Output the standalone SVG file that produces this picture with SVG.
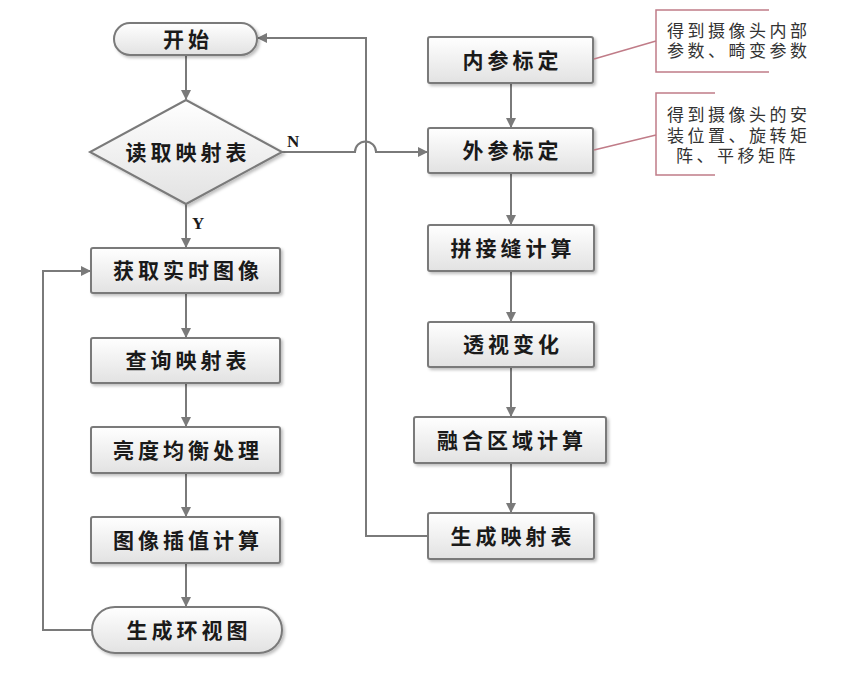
<svg xmlns="http://www.w3.org/2000/svg" width="842" height="675" viewBox="0 0 842 675">
<style>
.box{fill:url(#g);stroke:#7a7a7a;stroke-width:2;filter:url(#sh)}
.t{font-family:"Noto Sans CJK SC","Noto Sans",sans-serif;font-weight:bold;font-size:21px;letter-spacing:4px;fill:#1a1a1a;text-anchor:middle}
.ca{fill:none;stroke:#7a7a7a;stroke-width:2;marker-end:url(#ar)}
.lab{font-family:"Liberation Serif",serif;font-weight:bold;font-size:17px;fill:#1a1a1a}
.co{fill:none;stroke:#c07c88;stroke-width:1.5}
.ct{font-family:"Noto Sans CJK SC","Noto Sans",sans-serif;font-size:17px;letter-spacing:3.5px;fill:#333}
</style>
<defs>
<linearGradient id="g" x1="0" y1="0" x2="0" y2="1"><stop offset="0" stop-color="#ffffff"/><stop offset="1" stop-color="#e2e2e2"/></linearGradient>
<filter id="sh" x="-10%" y="-10%" width="130%" height="140%"><feDropShadow dx="2" dy="2" stdDeviation="1.5" flood-color="#000" flood-opacity="0.25"/></filter>
<marker id="ar" markerWidth="10" markerHeight="10" refX="9" refY="5" orient="auto" markerUnits="userSpaceOnUse"><path d="M0,0 L10,5 L0,10 Z" fill="#7a7a7a"/></marker>
</defs>
<g id="connectors">
<path class="ca" d="M186,55 V99"/>
<path class="ca" d="M186,204 V247"/>
<path class="ca" d="M186,293 V337"/>
<path class="ca" d="M186,383 V426"/>
<path class="ca" d="M186,473 V516"/>
<path class="ca" d="M186,563 V606"/>
<path class="ca" d="M92,630 H43 V271 H90"/>
<path class="ca" d="M282,152 H355 A10.5,10.5 0 0 1 376,152 H427"/>
<path class="ca" d="M428,536 H366 V38 H258"/>
<path class="ca" d="M511,83 V127"/>
<path class="ca" d="M511,173 V224"/>
<path class="ca" d="M511,271 V321"/>
<path class="ca" d="M511,367 V416"/>
<path class="ca" d="M511,463 V512"/>
<text class="lab" x="287" y="147">N</text>
<text class="lab" x="192" y="229">Y</text>
</g>
<g id="start"><rect class="box" x="114" y="23" width="143" height="32" rx="16"/><text class="t" x="188" y="46.5">开始</text></g>
<g id="read"><path class="box" d="M186,100 L282,152 L186,204 L90,152 Z"/><text class="t" x="188" y="159.5">读取映射表</text></g>
<g id="acquire"><rect class="box" x="91" y="248" width="189" height="45" rx="2"/><text class="t" x="188" y="277.5">获取实时图像</text></g>
<g id="query"><rect class="box" x="91" y="338" width="189" height="45" rx="2"/><text class="t" x="188" y="367.5">查询映射表</text></g>
<g id="bright"><rect class="box" x="91" y="427" width="189" height="46" rx="2"/><text class="t" x="188" y="457.5">亮度均衡处理</text></g>
<g id="interp"><rect class="box" x="91" y="517" width="189" height="46" rx="2"/><text class="t" x="188" y="547.5">图像插值计算</text></g>
<g id="surround"><rect class="box" x="92" y="607" width="190" height="46" rx="23"/><text class="t" x="189" y="637.5">生成环视图</text></g>
<g id="intrinsic"><rect class="box" x="428" y="37" width="165" height="46" rx="2"/><text class="t" x="512.5" y="67.5">内参标定</text></g>
<g id="extrinsic"><rect class="box" x="428" y="128" width="165" height="45" rx="2"/><text class="t" x="512.5" y="157.5">外参标定</text></g>
<g id="seam"><rect class="box" x="428" y="225" width="166" height="46" rx="2"/><text class="t" x="513" y="255.5">拼接缝计算</text></g>
<g id="persp"><rect class="box" x="428" y="322" width="166" height="45" rx="2"/><text class="t" x="513" y="351.5">透视变化</text></g>
<g id="blend"><rect class="box" x="414" y="417" width="192" height="46" rx="2"/><text class="t" x="512" y="447.5">融合区域计算</text></g>
<g id="genmap"><rect class="box" x="428" y="513" width="166" height="46" rx="2"/><text class="t" x="513" y="543.5">生成映射表</text></g>
<g id="note1">
<path class="co" d="M594,59 L656,41"/>
<path class="co" d="M769,10 H656 V72 H769"/>
<text class="ct" x="667" y="37">得到摄像头内部</text>
<text class="ct" x="667" y="57">参数、畸变参数</text>
</g>
<g id="note2">
<path class="co" d="M594,150 L656,135"/>
<path class="co" d="M715,93 H656 V175 H715"/>
<text class="ct" x="667" y="121">得到摄像头的安</text>
<text class="ct" x="667" y="142">装位置、旋转矩</text>
<text class="ct" x="676" y="162">阵、平移矩阵</text>
</g>
</svg>
